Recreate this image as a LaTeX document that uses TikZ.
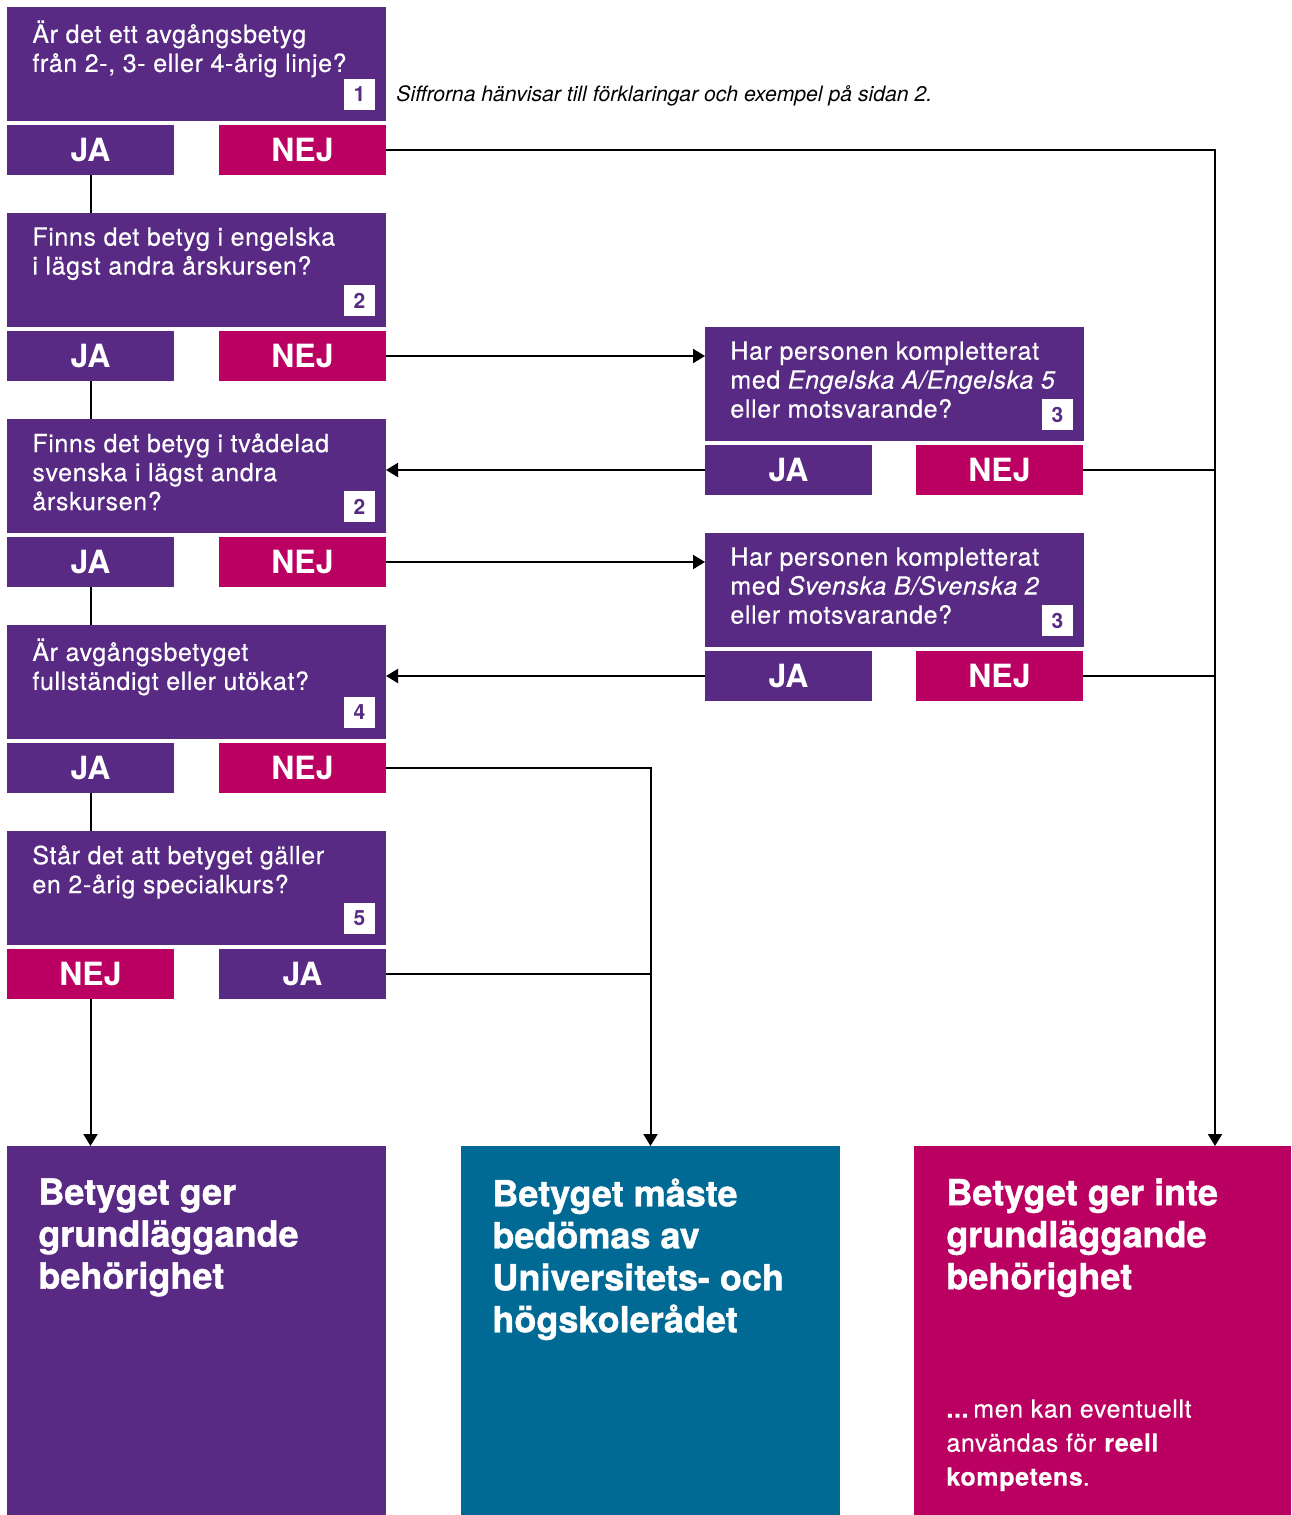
\documentclass[tikz,border=0pt]{standalone}
\usepackage{fontspec}
\setmainfont{TeX Gyre Heros}
\newfontfamily\qfont[LetterSpace=2.5, FakeBold=0.4]{TeX Gyre Heros}
\newfontfamily\tfont[FakeBold=1.2]{TeX Gyre Heros}
\usetikzlibrary{positioning,arrows.meta}
\definecolor{lila}{RGB}{88,42,132}
\definecolor{cerise}{RGB}{186,0,96}
\definecolor{petrol}{RGB}{0,105,148}
\tikzset{
  fraga/.style={fill=lila, minimum width=189.5pt, minimum height=57pt, inner sep=0pt, outer sep=0pt, anchor=north west},
  svar/.style={minimum width=83.5pt, minimum height=25pt, inner sep=0pt, outer sep=0pt, text=white, font=\fontsize{16}{16}\selectfont\bfseries},
  ja/.style={svar, fill=lila},
  nej/.style={svar, fill=cerise},
  ftext/.style={text=white, align=left, inner sep=0pt, anchor=north west, font=\qfont\fontsize{12.5}{14.5}\selectfont, execute at begin node=\rule{0pt}{12pt}},
  nummer/.style={fill=white, text=lila, minimum size=15.5pt, inner sep=0pt, outer sep=0pt, font=\fontsize{10.5}{10.5}\selectfont\bfseries},
  utfall/.style={minimum width=189.5pt, minimum height=184.5pt, inner sep=0pt, outer sep=0pt, anchor=north west},
  utext/.style={text=white, align=left, inner sep=0pt, anchor=north west, font=\tfont\fontsize{18}{21}\selectfont\bfseries, execute at begin node=\rule{0pt}{16pt}},
  pil/.style={line width=1pt, -{Triangle[length=6pt,width=7pt]}},
  linje/.style={line width=1pt},
}
\begin{document}
\begin{tikzpicture}[x=0.5pt, y=-0.5pt]
\useasboundingbox (0,0) rectangle (1291,1515);
% vänster kolumn
\node[fraga] (q1) at (7,7) {};
\node[ftext] (t1) at ([xshift=12.5pt,yshift=-6.5pt]q1.north west) {Är det ett avgångsbetyg\\från 2-, 3- eller 4-årig linje?};
\node[nummer, above left=5.5pt and 5.5pt of q1.south east] (n1) {1};
\node[ja, below right=2pt and 0pt of q1.south west] (ja1) {JA};
\node[nej, below left=2pt and 0pt of q1.south east] (nej1) {NEJ};

\node[fraga, below right=19pt and 0pt of ja1.south west] (q2) {};
\node[ftext] (t2) at ([xshift=12.5pt,yshift=-7pt]q2.north west) {Finns det betyg i engelska\\i lägst andra årskursen?};
\node[nummer, above left=5.5pt and 5.5pt of q2.south east] (n2) {2};
\node[ja, below right=2pt and 0pt of q2.south west] (ja2) {JA};
\node[nej, below left=2pt and 0pt of q2.south east] (nej2) {NEJ};

\node[fraga, below right=19pt and 0pt of ja2.south west] (q3) {};
\node[ftext] (t3) at ([xshift=12.5pt,yshift=-7pt]q3.north west) {Finns det betyg i tvådelad\\svenska i lägst andra\\årskursen?};
\node[nummer, above left=5.5pt and 5.5pt of q3.south east] (n3) {2};
\node[ja, below right=2pt and 0pt of q3.south west] (ja3) {JA};
\node[nej, below left=2pt and 0pt of q3.south east] (nej3) {NEJ};

\node[fraga, below right=19pt and 0pt of ja3.south west] (q4) {};
\node[ftext] (t4) at ([xshift=12.5pt,yshift=-6.5pt]q4.north west) {Är avgångsbetyget\\fullständigt eller utökat?};
\node[nummer, above left=5.5pt and 5.5pt of q4.south east] (n4) {4};
\node[ja, below right=2pt and 0pt of q4.south west] (ja4) {JA};
\node[nej, below left=2pt and 0pt of q4.south east] (nej4) {NEJ};

\node[fraga, below right=19pt and 0pt of ja4.south west] (q5) {};
\node[ftext] (t5) at ([xshift=12.5pt,yshift=-7pt]q5.north west) {Står det att betyget gäller\\en 2-årig specialkurs?};
\node[nummer, above left=5.5pt and 5.5pt of q5.south east] (n5) {5};
\node[nej, below right=2pt and 0pt of q5.south west] (nej5) {NEJ};
\node[ja, below left=2pt and 0pt of q5.south east] (ja5) {JA};

% höger kolumn
\node[fraga] (r1) at (705,327) {};
\node[ftext] (rt1) at ([xshift=12.5pt,yshift=-7pt]r1.north west) {Har personen kompletterat\\med \textit{Engelska A/Engelska 5}\\eller motsvarande?};
\node[nummer, above left=5.5pt and 5.5pt of r1.south east] (rn1) {3};
\node[ja, below right=2pt and 0pt of r1.south west] (rja1) {JA};
\node[nej, below left=2pt and 0.5pt of r1.south east] (rnej1) {NEJ};

\node[fraga] (r2) at (705,533) {};
\node[ftext] (rt2) at ([xshift=12.5pt,yshift=-7pt]r2.north west) {Har personen kompletterat\\med \textit{Svenska B/Svenska 2}\\eller motsvarande?};
\node[nummer, above left=5.5pt and 5.5pt of r2.south east] (rn2) {3};
\node[ja, below right=2pt and 0pt of r2.south west] (rja2) {JA};
\node[nej, below left=2pt and 0.5pt of r2.south east] (rnej2) {NEJ};

\node[anchor=base west, inner sep=0pt, font=\fontsize{10.6}{12}\selectfont\itshape] (not) at (396,101) {Siffrorna hänvisar till förklaringar och exempel på sidan 2.};

% utfall
\node[utfall, fill=lila] (u1) at (7,1146) {};
\node[utext] (ut1) at ([xshift=15.5pt,yshift=-16pt]u1.north west) {Betyget ger\\grundläggande\\behörighet};
\node[utfall, fill=petrol] (u2) at (461,1146) {};
\node[utext] (ut2) at ([xshift=15.5pt,yshift=-16pt]u2.north west) {Betyget måste\\bedömas av\\Universitets- och\\högskolerådet};
\node[utfall, fill=cerise, minimum width=188.5pt] (u3) at (914,1146) {};
\node[utext] (ut3) at ([xshift=16pt,yshift=-16pt]u3.north west) {Betyget ger inte\\grundläggande\\behörighet};
\node[ftext, font=\qfont\fontsize{12.5}{17}\selectfont] (ut4) at ([xshift=16pt,yshift=-126.5pt]u3.north west) {\textbf{...}\,men kan eventuellt\\användas för \textbf{reell}\\\textbf{kompetens}.};

% pilar
\coordinate (rail) at (1215,0);
\draw[linje] (ja1) -- (ja1 |- q2.north);
\draw[linje] (ja2) -- (ja2 |- q3.north);
\draw[linje] (ja3) -- (ja3 |- q4.north);
\draw[linje] (ja4) -- (ja4 |- q5.north);
\draw[pil] (nej1) -- (nej1 -| rail) -- (rail |- u3.north);
\draw[pil] (nej2) -- (nej2 -| r1.west);
\draw[pil] (rja1) -- (rja1 -| q3.east);
\draw[linje] (rnej1) -- (rnej1 -| rail);
\draw[pil] (nej3) -- (nej3 -| r2.west);
\draw[pil] (rja2) -- (rja2 -| q4.east);
\draw[linje] (rnej2) -- (rnej2 -| rail);
\draw[pil] (nej4) -- (nej4 -| u2.north) -- (u2.north);
\draw[linje] (ja5) -- (ja5 -| u2.north);
\draw[pil] (nej5) -- (nej5 |- u1.north);
\end{tikzpicture}
\end{document}
